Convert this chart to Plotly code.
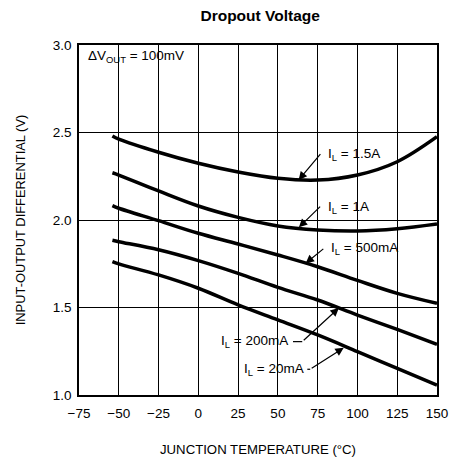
import plotly.graph_objects as go

# Data
temps = [-54, -50, -25, 0, 25, 50, 75, 100, 125, 150]
v_1500mA = [2.48, 2.462, 2.387, 2.324, 2.274, 2.238, 2.228, 2.257, 2.333, 2.476]
v_1000mA = [2.27, 2.257, 2.166, 2.08, 2.015, 1.966, 1.943, 1.937, 1.95, 1.977]
v_500mA = [2.082, 2.067, 1.996, 1.924, 1.863, 1.80, 1.733, 1.655, 1.581, 1.524]
v_200mA = [1.884, 1.876, 1.830, 1.768, 1.695, 1.615, 1.543, 1.457, 1.375, 1.29]
v_20mA = [1.762, 1.749, 1.686, 1.61, 1.515, 1.429, 1.343, 1.248, 1.152, 1.057]

series = [
    ("I<sub>L</sub> = 1.5A", v_1500mA),
    ("I<sub>L</sub> = 1A", v_1000mA),
    ("I<sub>L</sub> = 500mA", v_500mA),
    ("I<sub>L</sub> = 200mA", v_200mA),
    ("I<sub>L</sub> = 20mA", v_20mA),
]

x_ticks = [-75, -50, -25, 0, 25, 50, 75, 100, 125, 150]
y_ticks = [1.0, 1.5, 2.0, 2.5, 3.0]
y_ticktext = ["1.0", "1.5", "2.0", "2.5", "3.0"]

FONT = "Liberation Sans, Arial, sans-serif"
LABEL_SIZE = 13.5

fig = go.Figure()
for name, vals in series:
    fig.add_trace(go.Scatter(
        x=temps, y=vals, mode="lines", name=name,
        line=dict(color="black", width=3.5, shape="spline", smoothing=1.0),
        showlegend=False, hoverinfo="skip",
    ))

# Label annotations: (text, text_x, text_y, anchor, tail_x, tail_y, head_x, head_y)
labels = [
    ("I<sub>L</sub> = 1.5A", 80.5, 2.372, "left", 77.5, 2.385, 63.0, 2.228),
    ("I<sub>L</sub> = 1A", 80.5, 2.073, "left", 77.5, 2.085, 63.2, 1.958),
    ("I<sub>L</sub> = 500mA", 82.0, 1.838, "left", 79.5, 1.842, 67.4, 1.752),
    ("I<sub>L</sub> = 200mA", 57.5, 1.305, "right", 65.3, 1.305, 88.3, 1.497),
    ("I<sub>L</sub> = 20mA", 67.5, 1.147, "right", 70.3, 1.147, 91.4, 1.27),
]
for text, tx, ty, anc, ax_, ay_, hx, hy in labels:
    fig.add_annotation(x=tx, y=ty, text=text, showarrow=False, xanchor=anc,
                       yanchor="middle", font=dict(family=FONT, size=LABEL_SIZE, color="black"))
    fig.add_annotation(x=hx, y=hy, ax=ax_, ay=ay_, axref="x", ayref="y", text="",
                       showarrow=True, arrowhead=2, arrowsize=1.4, arrowwidth=1.2,
                       arrowcolor="black", standoff=0, startstandoff=0)

# short leader dashes for the two lower labels
fig.add_shape(type="line", x0=59.5, x1=65.3, y0=1.305, y1=1.305, line=dict(color="black", width=1.2))
fig.add_shape(type="line", x0=68.5, x1=70.3, y0=1.147, y1=1.147, line=dict(color="black", width=1.2))

fig.add_annotation(x=-70.5, y=2.937, text="ΔV<sub>OUT</sub> = 100mV", showarrow=False,
                   xanchor="left", yanchor="middle",
                   font=dict(family=FONT, size=LABEL_SIZE, color="black"))

fig.update_layout(
    width=454, height=457,
    margin=dict(l=79, r=17, t=45, b=62, autoexpand=False),
    paper_bgcolor="white", plot_bgcolor="white",
    font=dict(family=FONT, color="black", size=13),
    title=dict(text="<b>Dropout Voltage</b>", x=0.573, xref="container", xanchor="center",
               y=0.965, yanchor="middle", font=dict(family=FONT, size=15.5, color="black")),
)
fig.update_xaxes(
    range=[-75, 150], tickvals=x_ticks, ticks="", showgrid=True, gridcolor="black",
    gridwidth=1.3, zeroline=False, showline=True, linecolor="black", linewidth=1.6,
    mirror=True, tickfont=dict(size=13.5), automargin=False, ticklabelstandoff=5,
    title=dict(text="JUNCTION TEMPERATURE (°C)", font=dict(size=13.2), standoff=28),
)
fig.update_yaxes(
    range=[1.0, 3.0], tickvals=y_ticks, ticktext=y_ticktext, ticks="", showgrid=True,
    gridcolor="black", gridwidth=1.3, zeroline=False, showline=True, linecolor="black",
    linewidth=1.6, mirror=True, tickfont=dict(size=13.5), automargin=False,
    ticklabelstandoff=3,
    title=dict(text="INPUT-OUTPUT DIFFERENTIAL (V)", font=dict(size=12.9), standoff=24),
)

fig.write_html("out.html", config={"displayModeBar": False},
               post_script="document.body.style.margin='0px';document.body.style.padding='0px';")
